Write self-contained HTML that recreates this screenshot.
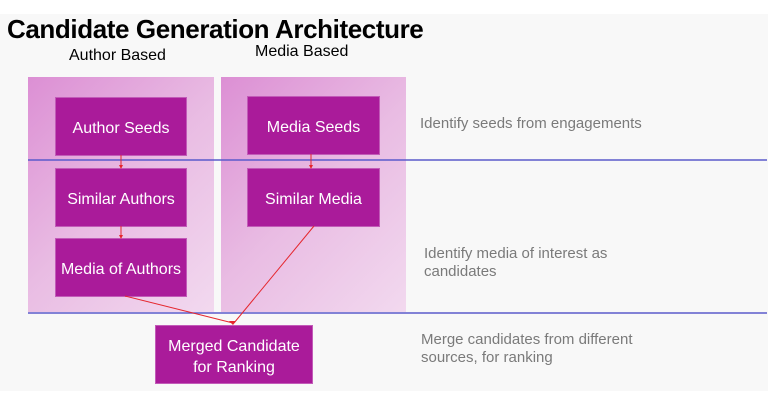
<!DOCTYPE html>
<html><head><style>
body{margin:0;width:780px;height:411px;background:#fff;position:relative;font-family:"Liberation Sans",sans-serif;overflow:hidden}
.bg{position:absolute;left:0;top:14px;width:768px;height:377px;background:#f8f8f8}
.t{position:absolute;white-space:nowrap}
.panel{position:absolute;background:linear-gradient(135deg,#dc8fd4 0%,#e9bce3 50%,#f2d9ef 100%)}
.box{position:absolute;background:#aa1b9a;color:#fff;font-size:16px;display:flex;align-items:center;justify-content:center;text-align:center;line-height:21px;box-shadow:0 0 0 1px #c25bb8;padding-top:4px;box-sizing:border-box}
.note{position:absolute;color:#7a7a7a;font-size:15px;line-height:18px}
</style></head><body>
<div class="bg"></div>
<div class="t" style="left:7px;top:14px;font-size:26px;font-weight:bold;color:#000;letter-spacing:-0.4px">Candidate Generation Architecture</div>
<div class="t" style="left:69px;top:47px;font-size:16px">Author Based</div>
<div class="t" style="left:255px;top:43px;font-size:16px">Media Based</div>
<div class="panel" style="left:28px;top:77px;width:186px;height:235px"></div>
<div class="panel" style="left:221px;top:77px;width:185px;height:235px"></div>
<div class="box" style="left:56px;top:98px;width:130px;height:57px">Author Seeds</div>
<div class="box" style="left:248px;top:97px;width:131px;height:57px">Media Seeds</div>
<div class="box" style="left:56px;top:169px;width:130px;height:57px">Similar Authors</div>
<div class="box" style="left:248px;top:169px;width:131px;height:57px">Similar Media</div>
<div class="box" style="left:56px;top:239px;width:130px;height:57px">Media of Authors</div>
<div class="box" style="left:156px;top:326px;width:156px;height:57px">Merged Candidate<br>for Ranking</div>
<svg style="position:absolute;left:0;top:0" width="780" height="411">
<line x1="28" y1="160" x2="767" y2="160" stroke="#5a5acb" stroke-width="1.5"/>
<line x1="28" y1="313" x2="767" y2="313" stroke="#5a5acb" stroke-width="1.5"/>
<g stroke="#e5262d" stroke-width="1" fill="none">
<line x1="121" y1="155" x2="121" y2="168"/>
<line x1="311" y1="154" x2="311" y2="168"/>
<line x1="121" y1="226" x2="121" y2="238"/>
<line x1="125" y1="296" x2="233" y2="323"/>
<line x1="314" y1="226" x2="234" y2="323"/>
</g>
<g fill="#e5262d">
<path d="M119 165 L123 165 L121 169Z"/>
<path d="M309 165 L313 165 L311 169Z"/>
<path d="M119 235 L123 235 L121 239Z"/>
<path d="M229 321 L236 321 L233 325Z"/>
</g>
</svg>
<div class="note" style="left:420px;top:115px">Identify seeds from engagements</div>
<div class="note" style="left:424px;top:245px">Identify media of interest as<br>candidates</div>
<div class="note" style="left:421px;top:331px">Merge candidates from different<br>sources, for ranking</div>
</body></html>
